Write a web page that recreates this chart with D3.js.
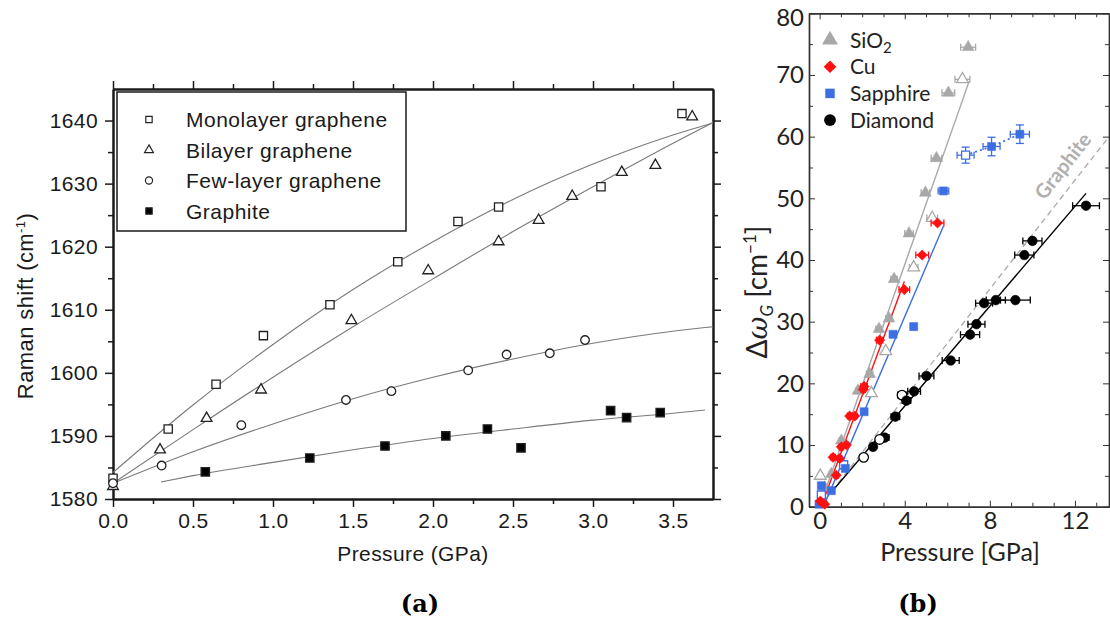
<!DOCTYPE html>
<html><head><meta charset="utf-8">
<script src="https://cdn.jsdelivr.net/npm/d3@7"></script>
<style>body{margin:0;background:#fff}svg{display:block}</style>
</head><body>
<svg id="fig" width="1110" height="624"></svg>
<script>
// ---------- Panel (a) data ----------
const aMonoP = [0, 0.345, 0.644, 0.94, 1.356, 1.78, 2.156, 2.41, 3.05, 3.556];
const aMonoV = [1583.3, 1591.1, 1598.2, 1605.9, 1610.8, 1617.6, 1624.0, 1626.3, 1629.5, 1641.1];
const aBiP = [0, 0.294, 0.585, 0.925, 1.49, 1.97, 2.41, 2.66, 2.87, 3.18, 3.39, 3.62];
const aBiV = [1582.0, 1587.8, 1592.8, 1597.3, 1608.3, 1616.2, 1620.8, 1624.2, 1628.0, 1631.8, 1632.9, 1640.6];
const aFewP = [0, 0.304, 0.802, 1.456, 1.74, 2.22, 2.46, 2.73, 2.95];
const aFewV = [1582.5, 1585.3, 1591.7, 1595.7, 1597.1, 1600.4, 1602.9, 1603.1, 1605.2];
const aGraphP = [0.577, 1.23, 1.70, 2.08, 2.34, 2.55, 3.11, 3.21, 3.42];
const aGraphV = [1584.3, 1586.5, 1588.4, 1590.0, 1591.1, 1588.1, 1594.0, 1592.9, 1593.7];
// fitted curves
const aFitP = [0, 0.5, 1, 1.5, 2, 2.5, 3, 3.5, 3.75];
const aFitMono = [1584.2, 1594.9, 1604.5, 1613.2, 1620.8, 1627.5, 1633.1, 1637.7, 1639.6];
const aFitBi = [1582.5, 1591.0, 1599.3, 1607.3, 1614.9, 1622.4, 1629.5, 1636.4, 1639.7];
const aFitFew = [1582.5, 1587.5, 1591.9, 1595.9, 1599.3, 1602.2, 1604.7, 1606.6, 1607.3];
const aFitGraphP = [0.3, 0.5, 1, 1.5, 2, 2.5, 3, 3.5, 3.7];
const aFitGraph = [1582.7, 1583.7, 1585.8, 1587.8, 1589.6, 1591.1, 1592.5, 1593.6, 1594.1];
const aXTicks = [0, 0.5, 1, 1.5, 2, 2.5, 3, 3.5];
const aYTicks = [1580, 1590, 1600, 1610, 1620, 1630, 1640];
const aLegend = ["Monolayer graphene", "Bilayer graphene", "Few-layer graphene", "Graphite"];

// ---------- Panel (b) data ----------
const bSiO2P = [6.98, 6.71, 6.05, 5.49, 4.97, 5.29, 4.2, 4.42, 3.5, 3.26, 3.11, 2.79, 2.35, 2.43, 1.8, 1.02, 0.55, 0.03, 0.24];
const bSiO2V = [74.5, 69.3, 67.1, 56.5, 50.9, 46.8, 44.3, 38.8, 36.9, 30.5, 25.2, 28.8, 21.5, 18.4, 18.8, 10.7, 5.3, 5.0, 3.1];
const bSiO2Err = [0.35, 0.35, 0.3, 0.25, 0.2, 0.25, 0.2, 0.2, 0.15, 0.15, 0, 0.15, 0.15, 0, 0.1, 0.1, 0.1, 0, 0.1];
const bSiO2Open = [0, 1, 0, 0, 0, 1, 0, 1, 0, 0, 1, 0, 0, 1, 0, 0, 0, 1, 0];
const bCuP = [5.54, 4.82, 3.98, 2.82, 2.09, 2.05, 1.41, 1.65, 1.26, 1.02, 0.63, 0.94, 0.78, 0.03, 0.24];
const bCuV = [46.0, 40.8, 35.2, 27.0, 19.5, 19.0, 14.7, 14.7, 10.0, 9.7, 8.0, 7.8, 5.1, 0.9, 0.4];
const bCuErr = [0.3, 0.3, 0.25, 0.15, 0.15, 0.1, 0.1, 0.1, 0.1, 0.1, 0.1, 0.1, 0.1, 0.1, 0.1];
const bSapP = [6.86, 8.08, 9.41, 5.82, 4.42, 3.45, 2.09, 1.13, 1.21, 0.55, 0.08, 0.08, -0.03];
const bSapV = [57.0, 58.4, 60.4, 51.2, 29.2, 27.95, 15.4, 6.8, 6.2, 2.6, 3.4, 1.9, 0.4];
const bSapXErr = [0.4, 0.4, 0.45, 0.25, 0, 0, 0, 0, 0.1, 0, 0, 0, 0];
const bSapYErr = [1.3, 1.5, 1.5, 0, 0, 0, 0, 0, 0, 0, 0, 0, 0];
const bSapOpen = [1, 0, 0, 0, 0, 0, 0, 1, 0, 0, 0, 1, 0];
const bDiaP = [12.52, 10.0, 9.62, 9.2, 8.28, 7.73, 7.37, 7.07, 6.16, 5.02, 4.44, 3.87, 4.08, 3.56, 3.06, 2.82, 2.51, 2.07];
const bDiaV = [48.8, 43.1, 40.8, 33.5, 33.5, 33.0, 29.6, 27.9, 23.7, 21.2, 18.7, 18.1, 17.2, 14.6, 11.2, 10.9, 9.7, 8.0];
const bDiaErr = [0.63, 0.45, 0.45, 0.7, 0.45, 0.4, 0.4, 0.45, 0.4, 0.35, 0.3, 0.2, 0.2, 0.2, 0.2, 0, 0.1, 0];
const bDiaOpen = [0, 0, 0, 0, 0, 0, 0, 0, 0, 0, 0, 1, 0, 0, 0, 1, 0, 1];
// linear fits (end points)
const bFitSiO2P = [0, 7.03], bFitSiO2V = [0, 69.0];
const bFitCuP = [0.08, 3.98], bFitCuV = [0.1, 36.5];
const bFitSapP = [0.24, 5.82], bFitSapV = [0.5, 45.5];
const bFitDiaP = [0.71, 12.52], bFitDiaV = [3.0, 50.8];
const bGraphiteP = [0, 13.6], bGraphiteV = [0, 60.0];
const bXTicks = [0, 4, 8, 12];
const bYTicks = [0, 10, 20, 30, 40, 50, 60, 70, 80];
const bLegend = ["SiO", "Cu", "Sapphire", "Diamond"];

const svg = d3.select("#fig");
svg.append("rect").attr("width", 1110).attr("height", 624).attr("fill", "#fff");

// ================= Panel (a) =================
const fA = "'Liberation Sans', Arial, sans-serif";
const xA = d3.scaleLinear([0, 3.75], [113, 713]);
const yA = d3.scaleLinear([1580, 1645], [499, 89]);
const gA = svg.append("g");
const inkA = "#1a1a1a";

function styleAx(g, w) {
  g.select(".domain").attr("stroke", inkA).attr("stroke-width", w);
  g.selectAll(".tick line").attr("stroke", inkA).attr("stroke-width", 1.5);
  g.selectAll("text").attr("font-family", fA).attr("font-size", 21).attr("fill", inkA)
    .attr("letter-spacing", 0.4);
}
const aXMinor = d3.range(0.25, 3.75, 0.5);
const aYMinor = d3.range(1585, 1645, 10);
// bottom
let ax = gA.append("g").attr("transform", "translate(0,499)")
  .call(d3.axisBottom(xA).tickValues(aXTicks).tickFormat(d3.format(".1f")).tickSize(8).tickSizeOuter(0).tickPadding(6));
styleAx(ax, 2);
ax = gA.append("g").attr("transform", "translate(0,499)")
  .call(d3.axisBottom(xA).tickValues(aXMinor).tickFormat("").tickSize(5).tickSizeOuter(0));
styleAx(ax, 2);
// top
ax = gA.append("g").attr("transform", "translate(0,89)")
  .call(d3.axisTop(xA).tickValues(aXTicks).tickFormat("").tickSize(8).tickSizeOuter(0));
styleAx(ax, 2);
ax = gA.append("g").attr("transform", "translate(0,89)")
  .call(d3.axisTop(xA).tickValues(aXMinor).tickFormat("").tickSize(5).tickSizeOuter(0));
styleAx(ax, 2);
// left
ax = gA.append("g").attr("transform", "translate(113,0)")
  .call(d3.axisLeft(yA).tickValues(aYTicks).tickFormat(d3.format("d")).tickSize(8).tickSizeOuter(0).tickPadding(7));
styleAx(ax, 2);
ax = gA.append("g").attr("transform", "translate(113,0)")
  .call(d3.axisLeft(yA).tickValues(aYMinor).tickFormat("").tickSize(5).tickSizeOuter(0));
styleAx(ax, 2);
// right
ax = gA.append("g").attr("transform", "translate(713,0)")
  .call(d3.axisRight(yA).tickValues(aYTicks).tickFormat("").tickSize(8).tickSizeOuter(0));
styleAx(ax, 2);
ax = gA.append("g").attr("transform", "translate(713,0)")
  .call(d3.axisRight(yA).tickValues(aYMinor).tickFormat("").tickSize(5).tickSizeOuter(0));
styleAx(ax, 2);

// fit curves
const lineA = d3.line().x(d => xA(d[0])).y(d => yA(d[1])).curve(d3.curveMonotoneX);
[[aFitP, aFitMono], [aFitP, aFitBi], [aFitP, aFitFew], [aFitGraphP, aFitGraph]].forEach(([P, V]) => {
  gA.append("path").datum(P.map((p, i) => [p, V[i]])).attr("d", lineA)
    .attr("fill", "none").attr("stroke", "#7a7a7a").attr("stroke-width", 1.1);
});

// markers
const symA = [
  { P: aMonoP, V: aMonoV, type: d3.symbolSquare, size: 68, fill: "#fff" },
  { P: aBiP, V: aBiV, type: d3.symbolTriangle, size: 50, fill: "#fff" },
  { P: aFewP, V: aFewV, type: d3.symbolCircle, size: 58, fill: "#fff" },
  { P: aGraphP, V: aGraphV, type: d3.symbolSquare, size: 70, fill: "#000" }
];
symA.forEach(s => {
  gA.append("g").selectAll("path").data(s.P.map((p, i) => [p, s.V[i]])).join("path")
    .attr("transform", d => `translate(${xA(d[0])},${yA(d[1])})`)
    .attr("d", d3.symbol(s.type, s.size))
    .attr("fill", s.fill).attr("stroke", "#222").attr("stroke-width", 1.3);
});

// legend
const legA = gA.append("g");
legA.append("rect").attr("x", 117).attr("y", 92).attr("width", 289).attr("height", 139)
  .attr("fill", "#fff").attr("stroke", inkA).attr("stroke-width", 1.5);
aLegend.forEach((t, i) => {
  const y = 119.5 + i * 30.5;
  legA.append("path").attr("transform", `translate(149,${y})`)
    .attr("d", d3.symbol(symA[i].type, i === 1 ? 34 : 40))
    .attr("fill", symA[i].fill).attr("stroke", "#222").attr("stroke-width", 1.2);
  legA.append("text").attr("x", 186).attr("y", y + 7.5).text(t)
    .attr("font-family", fA).attr("font-size", 21).attr("letter-spacing", 0.5).attr("fill", inkA);
});

// axis titles
gA.append("text").attr("x", 413).attr("y", 561).attr("text-anchor", "middle")
  .attr("font-family", fA).attr("font-size", 21).attr("letter-spacing", 0.4).attr("fill", inkA)
  .text("Pressure (GPa)");
const yl = gA.append("text").attr("transform", "translate(33,306) rotate(-90)").attr("text-anchor", "middle")
  .attr("font-family", fA).attr("font-size", 22).attr("letter-spacing", 0.4).attr("fill", inkA);
yl.append("tspan").text("Raman shift (cm");
yl.append("tspan").attr("dy", -8).attr("font-size", 13).text("-1");
yl.append("tspan").attr("dy", 8).text(")");
svg.append("text").attr("x", 420).attr("y", 612).attr("text-anchor", "middle")
  .attr("font-family", "'DejaVu Serif', serif").attr("font-weight", "bold").attr("font-size", 24)
  .text("(a)");

// ================= Panel (b) =================
const fB = "Lato, 'Open Sans', sans-serif";
const xB = d3.scaleLinear([-0.5, 13.6], [809, 1109]);
const yB = d3.scaleLinear([0, 80], [506.7, 13.3]);
const gB = svg.append("g");
const inkB = "#333";
const cGray = "#a8a8a8", cRed = "#ff1010", cBlue = "#3d6fe3", cBlack = "#000";

function styleB(g) {
  g.select(".domain").attr("stroke", inkB).attr("stroke-width", 1.4);
  g.selectAll(".tick line").attr("stroke", inkB).attr("stroke-width", 1);
  g.selectAll("text").attr("font-family", fB).attr("font-size", 24).attr("fill", "#222");
}
const bXMinor = d3.range(0, 14, 1).filter(v => v % 4 !== 0);
const bYMinor = d3.range(5, 80, 10);
ax = gB.append("g").attr("transform", "translate(0,506.7)")
  .call(d3.axisBottom(xB).tickValues(bXTicks).tickFormat(d3.format("d")).tickSize(-6).tickSizeOuter(0).tickPadding(5));
styleB(ax);
ax = gB.append("g").attr("transform", "translate(0,506.7)")
  .call(d3.axisBottom(xB).tickValues(bXMinor).tickFormat("").tickSize(-4).tickSizeOuter(0));
styleB(ax);
ax = gB.append("g").attr("transform", "translate(0,13.3)")
  .call(d3.axisTop(xB).tickValues(bXTicks).tickFormat("").tickSize(-6).tickSizeOuter(0));
styleB(ax);
ax = gB.append("g").attr("transform", "translate(0,13.3)")
  .call(d3.axisTop(xB).tickValues(bXMinor).tickFormat("").tickSize(-4).tickSizeOuter(0));
styleB(ax);
ax = gB.append("g").attr("transform", "translate(809,0)")
  .call(d3.axisLeft(yB).tickValues(bYTicks).tickFormat(d3.format("d")).tickSize(-6).tickSizeOuter(0).tickPadding(5));
styleB(ax);
ax.selectAll(".tick text").filter(d => d === 80).attr("dy", "0.5em");
ax = gB.append("g").attr("transform", "translate(809,0)")
  .call(d3.axisLeft(yB).tickValues(bYMinor).tickFormat("").tickSize(-4).tickSizeOuter(0));
styleB(ax);
ax = gB.append("g").attr("transform", "translate(1109,0)")
  .call(d3.axisRight(yB).tickValues(bYTicks).tickFormat("").tickSize(-6).tickSizeOuter(0));
styleB(ax);
ax = gB.append("g").attr("transform", "translate(1109,0)")
  .call(d3.axisRight(yB).tickValues(bYMinor).tickFormat("").tickSize(-4).tickSizeOuter(0));
styleB(ax);

const lineB = d3.line().x(d => xB(d[0])).y(d => yB(d[1]));
const pairs = (P, V) => P.map((p, i) => [p, V[i]]);
// graphite dashed reference
gB.append("path").datum(pairs(bGraphiteP, bGraphiteV)).attr("d", lineB)
  .attr("fill", "none").attr("stroke", "#aaa").attr("stroke-width", 1.3).attr("stroke-dasharray", "6,4");
// Graphite label
{
  const a = [xB(bGraphiteP[0]), yB(bGraphiteV[0])], b = [xB(bGraphiteP[1]), yB(bGraphiteV[1])];
  const ang = Math.atan2(b[1] - a[1], b[0] - a[0]) * 180 / Math.PI;
  gB.append("text").attr("transform", `translate(1063,166) rotate(${ang})`).attr("text-anchor", "middle")
    .attr("dy", "0.35em").attr("font-family", fB).attr("font-weight", "bold").attr("font-size", 20)
    .attr("fill", "#b0b0b0").text("Graphite");
}
// fit lines
[[bFitSiO2P, bFitSiO2V, cGray], [bFitSapP, bFitSapV, cBlue], [bFitCuP, bFitCuV, cRed], [bFitDiaP, bFitDiaV, cBlack]]
  .forEach(([P, V, c]) => {
    gB.append("path").datum(pairs(P, V)).attr("d", lineB).attr("fill", "none")
      .attr("stroke", c).attr("stroke-width", 1.4);
  });
// sapphire dotted connection
gB.append("path").datum(pairs(bSapP.slice(0, 3), bSapV.slice(0, 3))).attr("d", lineB)
  .attr("fill", "none").attr("stroke", cBlue).attr("stroke-width", 1.8).attr("stroke-dasharray", "2,3");

function errBars(g, P, V, XE, YE, c) {
  P.forEach((p, i) => {
    const x = xB(p), y = yB(V[i]);
    const xe = XE ? XE[i] : 0, ye = YE ? YE[i] : 0;
    if (xe > 0) {
      const x0 = xB(p - xe), x1 = xB(p + xe);
      g.append("line").attr("x1", x0).attr("x2", x1).attr("y1", y).attr("y2", y).attr("stroke", c).attr("stroke-width", 1.3);
      g.append("line").attr("x1", x0).attr("x2", x0).attr("y1", y - 3.5).attr("y2", y + 3.5).attr("stroke", c).attr("stroke-width", 1.3);
      g.append("line").attr("x1", x1).attr("x2", x1).attr("y1", y - 3.5).attr("y2", y + 3.5).attr("stroke", c).attr("stroke-width", 1.3);
    }
    if (ye > 0) {
      const y0 = yB(V[i] - ye), y1 = yB(V[i] + ye);
      g.append("line").attr("x1", x).attr("x2", x).attr("y1", y0).attr("y2", y1).attr("stroke", c).attr("stroke-width", 1.3);
      g.append("line").attr("x1", x - 4).attr("x2", x + 4).attr("y1", y0).attr("y2", y0).attr("stroke", c).attr("stroke-width", 1.3);
      g.append("line").attr("x1", x - 4).attr("x2", x + 4).attr("y1", y1).attr("y2", y1).attr("stroke", c).attr("stroke-width", 1.3);
    }
  });
}
function markers(g, P, V, OPEN, type, size, c, rot) {
  g.selectAll(null).data(pairs(P, V)).join("path")
    .attr("transform", d => `translate(${xB(d[0])},${yB(d[1])})` + (rot ? ` rotate(${rot})` : ""))
    .attr("d", d3.symbol(type, size))
    .attr("fill", (d, i) => OPEN && OPEN[i] ? "#fff" : c)
    .attr("stroke", c).attr("stroke-width", (d, i) => OPEN && OPEN[i] ? 1.3 : 0.6);
}
const gSi = gB.append("g"), gSa = gB.append("g"), gCu = gB.append("g"), gDi = gB.append("g");
errBars(gSi, bSiO2P, bSiO2V, bSiO2Err, null, cGray);
markers(gSi, bSiO2P, bSiO2V, bSiO2Open, d3.symbolTriangle, 60, cGray);
errBars(gSa, bSapP, bSapV, bSapXErr, bSapYErr, cBlue);
markers(gSa, bSapP, bSapV, bSapOpen, d3.symbolSquare, 64, cBlue);
errBars(gCu, bCuP, bCuV, bCuErr, null, cRed);
markers(gCu, bCuP, bCuV, null, d3.symbolSquare, 52, cRed, 45);
errBars(gDi, bDiaP, bDiaV, bDiaErr, null, cBlack);
markers(gDi, bDiaP, bDiaV, bDiaOpen, d3.symbolCircle, 72, cBlack);

// legend (b)
const legB = gB.append("g");
const legSym = [[d3.symbolTriangle, 110, cGray, 0], [d3.symbolSquare, 80, cRed, 45], [d3.symbolSquare, 90, cBlue, 0], [d3.symbolCircle, 110, cBlack, 0]];
bLegend.forEach((t, i) => {
  const y = 40 + i * 26.7;
  const s = legSym[i];
  legB.append("path").attr("transform", `translate(830,${y})` + (s[3] ? ` rotate(${s[3]})` : ""))
    .attr("d", d3.symbol(s[0], s[1])).attr("fill", s[2]);
  const tx = legB.append("text").attr("x", 850).attr("y", y + 7.5)
    .attr("font-family", fB).attr("font-size", 21).attr("fill", "#222").text(t);
  if (i === 0) tx.append("tspan").attr("dy", 5).attr("font-size", 15).text("2");
});

// axis titles (b)
gB.append("text").attr("x", 960).attr("y", 561).attr("text-anchor", "middle")
  .attr("font-family", fB).attr("font-size", 25).attr("fill", "#222").text("Pressure [GPa]");
const ylb = gB.append("text").attr("transform", "translate(767,292) rotate(-90)").attr("text-anchor", "middle")
  .attr("font-family", fB).attr("font-size", 28).attr("fill", "#222");
ylb.append("tspan").text("Δ");
ylb.append("tspan").attr("font-style", "italic").attr("font-family", "'DejaVu Serif', serif").text("ω");
ylb.append("tspan").attr("dy", 6).attr("font-size", 17).attr("font-style", "italic").text("G");
ylb.append("tspan").attr("dy", -6).text(" [cm");
ylb.append("tspan").attr("dy", -11).attr("font-size", 17).text("−1");
ylb.append("tspan").attr("dy", 11).text("]");
svg.append("text").attr("x", 918).attr("y", 612).attr("text-anchor", "middle")
  .attr("font-family", "'DejaVu Serif', serif").attr("font-weight", "bold").attr("font-size", 24)
  .text("(b)");
</script>
</body></html>
